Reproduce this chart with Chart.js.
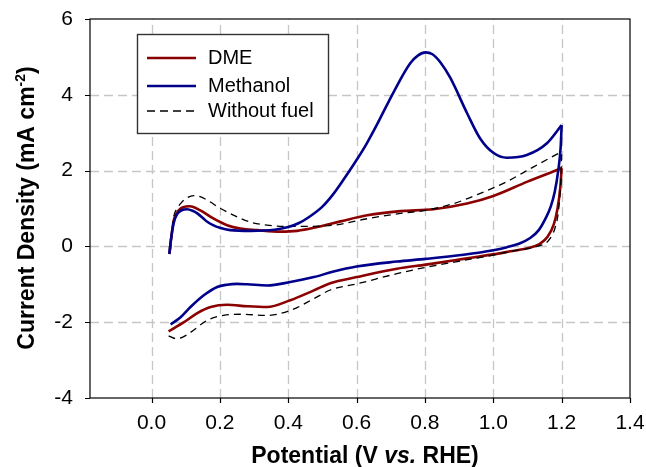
<!DOCTYPE html>
<html>
<head>
<meta charset="utf-8">
<script src="https://cdn.jsdelivr.net/npm/chart.js@4/dist/chart.umd.min.js"></script>
<style>
  html, body { margin: 0; padding: 0; background: #fff; }
  #wrap { width: 646px; height: 467px; }
</style>
</head>
<body>
<div id="wrap"><canvas id="cv" width="646" height="467"></canvas></div>
<script>
// Cyclic voltammograms: potential (V vs. RHE) and current density (mA cm-2).
// Each scan is kept as two branches: the forward (anodic) sweep and the
// return (cathodic) sweep, both listed in order of increasing potential.

// DME
const dmeFwdV = [0.052, 0.058, 0.065, 0.075, 0.085, 0.100, 0.112, 0.143, 0.182, 0.221, 0.260, 0.309, 0.377, 0.426, 0.485, 0.553, 0.631, 0.728, 0.825, 0.923, 1.000, 1.100, 1.200];
const dmeFwdJ = [-0.20, 0.25, 0.69, 0.90, 1.00, 1.05, 1.06, 0.95, 0.73, 0.56, 0.47, 0.43, 0.39, 0.41, 0.51, 0.66, 0.82, 0.93, 0.98, 1.13, 1.33, 1.71, 2.06];
const dmeRevV = [0.050, 0.095, 0.134, 0.173, 0.221, 0.280, 0.338, 0.406, 0.475, 0.523, 0.600, 0.718, 0.803, 0.913, 1.000, 1.050, 1.100, 1.135, 1.160, 1.177, 1.188, 1.196, 1.200];
const dmeRevJ = [-2.24, -2.00, -1.76, -1.60, -1.54, -1.58, -1.60, -1.42, -1.16, -0.97, -0.81, -0.59, -0.48, -0.33, -0.21, -0.13, -0.05, 0.06, 0.27, 0.58, 1.00, 1.55, 2.06];

// Methanol
const meohFwdV = [0.052, 0.058, 0.065, 0.075, 0.090, 0.104, 0.120, 0.134, 0.150, 0.163, 0.180, 0.200, 0.230, 0.290, 0.360, 0.400, 0.430, 0.460, 0.500, 0.530, 0.560, 0.600, 0.630, 0.660, 0.710, 0.757, 0.780, 0.802, 0.822, 0.845, 0.874, 0.923, 0.962, 1.000, 1.040, 1.098, 1.157, 1.200];
const meohFwdJ = [-0.20, 0.25, 0.62, 0.85, 0.96, 0.98, 0.94, 0.87, 0.75, 0.65, 0.56, 0.49, 0.43, 0.41, 0.44, 0.51, 0.61, 0.77, 1.05, 1.36, 1.74, 2.28, 2.72, 3.22, 4.10, 4.83, 5.04, 5.12, 5.07, 4.86, 4.45, 3.52, 2.84, 2.47, 2.34, 2.41, 2.72, 3.20];
const meohRevV = [0.056, 0.085, 0.114, 0.153, 0.192, 0.221, 0.250, 0.280, 0.338, 0.406, 0.475, 0.530, 0.600, 0.718, 0.803, 0.913, 1.000, 1.040, 1.075, 1.108, 1.133, 1.153, 1.168, 1.180, 1.190, 1.197, 1.200];
const meohRevJ = [-2.06, -1.87, -1.60, -1.29, -1.07, -1.01, -0.99, -1.00, -1.03, -0.94, -0.81, -0.67, -0.53, -0.40, -0.33, -0.22, -0.10, -0.02, 0.07, 0.22, 0.43, 0.74, 1.05, 1.45, 2.00, 2.60, 3.20];

// Without fuel (supporting electrolyte only)
const blankFwdV = [0.055, 0.060, 0.065, 0.075, 0.085, 0.100, 0.124, 0.140, 0.163, 0.202, 0.241, 0.290, 0.338, 0.397, 0.455, 0.533, 0.631, 0.728, 0.801, 0.884, 0.962, 1.040, 1.118, 1.200];
const blankFwdJ = [-0.15, 0.35, 0.78, 1.00, 1.13, 1.26, 1.34, 1.32, 1.22, 1.00, 0.82, 0.64, 0.56, 0.53, 0.53, 0.56, 0.73, 0.87, 0.95, 1.13, 1.40, 1.71, 2.10, 2.50];
const blankRevV = [0.050, 0.070, 0.090, 0.114, 0.163, 0.211, 0.260, 0.338, 0.406, 0.475, 0.523, 0.600, 0.718, 0.803, 0.913, 1.000, 1.069, 1.128, 1.162, 1.181, 1.191, 1.198, 1.200];
const blankRevJ = [-2.36, -2.43, -2.40, -2.27, -1.95, -1.82, -1.79, -1.82, -1.69, -1.38, -1.15, -0.99, -0.72, -0.55, -0.37, -0.23, -0.10, 0.00, 0.16, 0.50, 0.96, 1.84, 2.50];

// Axis ticks
const xTicks = [0.0, 0.2, 0.4, 0.6, 0.8, 1.0, 1.2, 1.4];
const yTicks = [-4, -2, 0, 2, 4, 6];

// Legend entries
const seriesNames = ['DME', 'Methanol', 'Without fuel'];
const seriesColors = ['#8b0000', '#00008b', '#000000'];

const FONT = "'Liberation Sans', Arial, Helvetica, sans-serif";
const pts = (v, j) => v.map((p, i) => ({ x: p, y: j[i] }));

function branch(label, v, j, color, dashed, order) {
  return {
    label,
    data: pts(v, j),
    borderColor: color,
    borderWidth: dashed ? 1.3 : 2.6,
    borderDash: dashed ? [7, 5] : [],
    pointRadius: 0,
    pointHoverRadius: 0,
    fill: false,
    cubicInterpolationMode: 'monotone',
    order
  };
}

const datasets = [
  branch(seriesNames[0], dmeFwdV, dmeFwdJ, seriesColors[0], false, 3),
  branch(seriesNames[0], dmeRevV, dmeRevJ, seriesColors[0], false, 3),
  branch(seriesNames[2], blankFwdV, blankFwdJ, seriesColors[2], true, 2),
  branch(seriesNames[2], blankRevV, blankRevJ, seriesColors[2], true, 2),
  branch(seriesNames[1], meohFwdV, meohFwdJ, seriesColors[1], false, 1),
  branch(seriesNames[1], meohRevV, meohRevJ, seriesColors[1], false, 1)
];

// Dashed grid behind the curves; frame, tick marks, titles and legend on top.
const framePlugin = {
  id: 'frame',
  beforeDatasetsDraw(chart) {
    const { ctx, chartArea: a, scales: { x, y } } = chart;
    ctx.save();
    ctx.strokeStyle = '#c6c6c6';
    ctx.lineWidth = 1.3;
    ctx.setLineDash([9, 5]);
    xTicks.forEach(v => {
      const px = Math.round(x.getPixelForValue(v)) + 0.5;
      if (px <= a.left + 1 || px >= a.right - 1) return;
      ctx.beginPath(); ctx.moveTo(px, a.bottom); ctx.lineTo(px, a.top); ctx.stroke();
    });
    yTicks.forEach(v => {
      const py = Math.round(y.getPixelForValue(v)) + 0.5;
      if (py <= a.top + 1 || py >= a.bottom - 1) return;
      ctx.beginPath(); ctx.moveTo(a.left, py); ctx.lineTo(a.right, py); ctx.stroke();
    });
    ctx.restore();
  },
  afterDatasetsDraw(chart) {
    const { ctx, chartArea: a, scales: { x, y } } = chart;
    ctx.save();
    ctx.setLineDash([]);
    ctx.strokeStyle = '#000';
    ctx.lineWidth = 1.2;
    ctx.strokeRect(a.left, a.top, a.right - a.left, a.bottom - a.top);
    ctx.beginPath();
    xTicks.forEach(v => {
      const px = Math.round(x.getPixelForValue(v)) + 0.5;
      ctx.moveTo(px, a.bottom); ctx.lineTo(px, a.bottom + 5);
    });
    yTicks.forEach(v => {
      const py = Math.round(y.getPixelForValue(v)) + 0.5;
      ctx.moveTo(a.left - 5, py); ctx.lineTo(a.left, py);
    });
    ctx.stroke();

    // Legend
    const lx = 137.5, ly = 34.5, lw = 191, lh = 99;
    ctx.fillStyle = '#fff';
    ctx.fillRect(lx, ly, lw, lh);
    ctx.strokeStyle = '#333';
    ctx.lineWidth = 1.4;
    ctx.strokeRect(lx, ly, lw, lh);
    const rows = [58, 86, 111];
    ctx.font = '20px ' + FONT;
    ctx.textBaseline = 'middle';
    ctx.textAlign = 'left';
    seriesNames.forEach((name, i) => {
      ctx.strokeStyle = seriesColors[i];
      ctx.lineWidth = i === 2 ? 1.3 : 2.4;
      ctx.setLineDash(i === 2 ? [8, 5] : []);
      ctx.beginPath(); ctx.moveTo(147, rows[i]); ctx.lineTo(196, rows[i]); ctx.stroke();
      ctx.fillStyle = '#000';
      ctx.fillText(name, 208, rows[i]);
    });
    ctx.setLineDash([]);

    // X axis title with italic "vs."
    ctx.fillStyle = '#000';
    ctx.textBaseline = 'alphabetic';
    const bold = 'bold 23px ' + FONT, boldIt = 'italic bold 23px ' + FONT;
    const parts = [['Potential (V ', bold], ['vs.', boldIt], [' RHE)', bold]];
    let total = 0;
    parts.forEach(p => { ctx.font = p[1]; total += ctx.measureText(p[0]).width; });
    let cx = 365 - total / 2;
    parts.forEach(p => { ctx.font = p[1]; ctx.fillText(p[0], cx, 463); cx += ctx.measureText(p[0]).width; });

    // Y axis title with superscript
    ctx.save();
    ctx.translate(34, 208);
    ctx.rotate(-Math.PI / 2);
    const ySeg = [['Current Density (mA cm', bold, 0], ['-2', 'bold 14px ' + FONT, -9], [')', bold, 0]];
    total = 0;
    ySeg.forEach(p => { ctx.font = p[1]; total += ctx.measureText(p[0]).width; });
    cx = -total / 2;
    ySeg.forEach(p => { ctx.font = p[1]; ctx.fillText(p[0], cx, p[2]); cx += ctx.measureText(p[0]).width; });
    ctx.restore();

    ctx.restore();
  }
};

new Chart(document.getElementById('cv'), {
  type: 'line',
  data: { datasets },
  options: {
    responsive: false,
    animation: false,
    events: [],
    layout: { padding: { top: 19, right: 16, left: 0, bottom: 0 } },
    plugins: { legend: { display: false }, tooltip: { enabled: false } },
    scales: {
      x: {
        type: 'linear',
        min: -0.18,
        max: 1.4,
        afterBuildTicks: s => { s.ticks = xTicks.map(v => ({ value: v })); },
        afterFit: s => { s.height = 69; s.paddingLeft = 0; s.paddingRight = 0; s.paddingTop = 0; s.paddingBottom = 0; },
        grid: { display: false, drawTicks: false },
        border: { display: false },
        ticks: {
          color: '#000',
          font: { family: FONT, size: 21 },
          padding: 13,
          maxRotation: 0,
          autoSkip: false,
          callback: v => Number(v).toFixed(1)
        }
      },
      y: {
        type: 'linear',
        min: -4,
        max: 6,
        afterBuildTicks: s => { s.ticks = yTicks.map(v => ({ value: v })); },
        afterFit: s => { s.width = 90; s.paddingLeft = 0; s.paddingRight = 0; s.paddingTop = 0; s.paddingBottom = 0; },
        grid: { display: false, drawTicks: false },
        border: { display: false },
        ticks: {
          color: '#000',
          font: { family: FONT, size: 21 },
          padding: 17,
          autoSkip: false,
          callback: v => String(v)
        }
      }
    }
  },
  plugins: [framePlugin]
});
</script>
</body>
</html>
